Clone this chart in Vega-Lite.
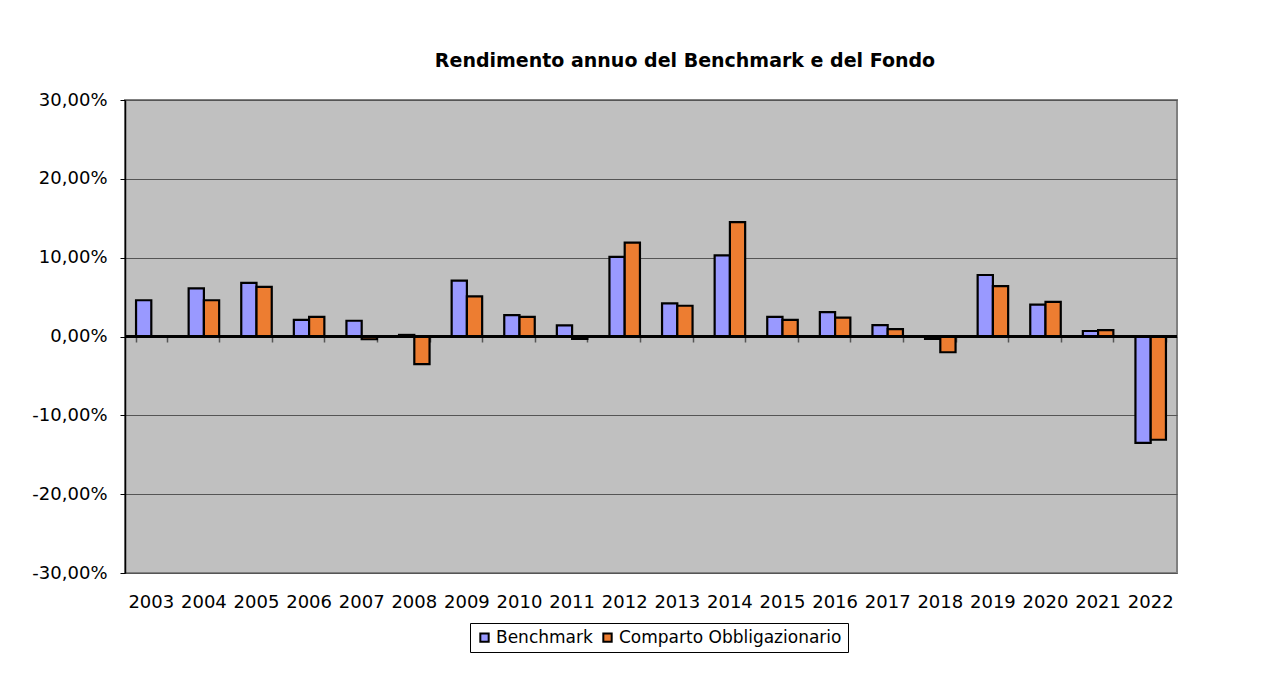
{
  "$schema": "https://vega.github.io/schema/vega-lite/v6.json",
  "autosize": "none",
  "width": 1052,
  "height": 473,
  "padding": {"left": 125, "top": 100, "right": 107, "bottom": 104},
  "background": "white",
  "title": {
    "text": "Rendimento annuo del Benchmark e del Fondo",
    "anchor": "middle",
    "dx": 34,
    "offset": 20,
    "font": "DejaVu Sans",
    "fontSize": 19,
    "fontWeight": "bold",
    "color": "black"
  },
  "data": {
    "values": [
      {"year": "2003", "series": "Benchmark", "value": 0.046},
      {"year": "2004", "series": "Benchmark", "value": 0.061},
      {"year": "2004", "series": "Comparto Obbligazionario", "value": 0.046},
      {"year": "2005", "series": "Benchmark", "value": 0.068},
      {"year": "2005", "series": "Comparto Obbligazionario", "value": 0.063},
      {"year": "2006", "series": "Benchmark", "value": 0.021},
      {"year": "2006", "series": "Comparto Obbligazionario", "value": 0.025},
      {"year": "2007", "series": "Benchmark", "value": 0.020},
      {"year": "2007", "series": "Comparto Obbligazionario", "value": -0.0035},
      {"year": "2008", "series": "Benchmark", "value": 0.002},
      {"year": "2008", "series": "Comparto Obbligazionario", "value": -0.035},
      {"year": "2009", "series": "Benchmark", "value": 0.071},
      {"year": "2009", "series": "Comparto Obbligazionario", "value": 0.051},
      {"year": "2010", "series": "Benchmark", "value": 0.027},
      {"year": "2010", "series": "Comparto Obbligazionario", "value": 0.025},
      {"year": "2011", "series": "Benchmark", "value": 0.014},
      {"year": "2011", "series": "Comparto Obbligazionario", "value": -0.003},
      {"year": "2012", "series": "Benchmark", "value": 0.101},
      {"year": "2012", "series": "Comparto Obbligazionario", "value": 0.119},
      {"year": "2013", "series": "Benchmark", "value": 0.042},
      {"year": "2013", "series": "Comparto Obbligazionario", "value": 0.039},
      {"year": "2014", "series": "Benchmark", "value": 0.103},
      {"year": "2014", "series": "Comparto Obbligazionario", "value": 0.145},
      {"year": "2015", "series": "Benchmark", "value": 0.025},
      {"year": "2015", "series": "Comparto Obbligazionario", "value": 0.021},
      {"year": "2016", "series": "Benchmark", "value": 0.031},
      {"year": "2016", "series": "Comparto Obbligazionario", "value": 0.024},
      {"year": "2017", "series": "Benchmark", "value": 0.0145},
      {"year": "2017", "series": "Comparto Obbligazionario", "value": 0.0094},
      {"year": "2018", "series": "Benchmark", "value": -0.003},
      {"year": "2018", "series": "Comparto Obbligazionario", "value": -0.020},
      {"year": "2019", "series": "Benchmark", "value": 0.078},
      {"year": "2019", "series": "Comparto Obbligazionario", "value": 0.064},
      {"year": "2020", "series": "Benchmark", "value": 0.0405},
      {"year": "2020", "series": "Comparto Obbligazionario", "value": 0.044},
      {"year": "2021", "series": "Benchmark", "value": 0.007},
      {"year": "2021", "series": "Comparto Obbligazionario", "value": 0.008},
      {"year": "2022", "series": "Benchmark", "value": -0.135},
      {"year": "2022", "series": "Comparto Obbligazionario", "value": -0.131}
    ]
  },
  "layer": [
    {
      "mark": {"type": "bar", "stroke": "black", "strokeWidth": 2.2},
      "encoding": {
        "x": {
          "field": "year",
          "type": "nominal",
          "scale": {"paddingInner": 0.42, "paddingOuter": 0.21},
          "axis": {
            "title": null,
            "labelAngle": 0,
            "ticks": false,
            "domain": false,
            "labelPadding": 20,
            "labelFont": "DejaVu Sans",
            "labelFontSize": 18,
            "labelColor": "black"
          }
        },
        "xOffset": {
          "field": "series",
          "type": "nominal",
          "scale": {"domain": ["Benchmark", "Comparto Obbligazionario"], "paddingInner": 0}
        },
        "y": {
          "field": "value",
          "type": "quantitative",
          "scale": {"domain": [-0.3, 0.3], "nice": false},
          "axis": {
            "title": null,
            "values": [-0.3, -0.2, -0.1, 0, 0.1, 0.2, 0.3],
            "labelExpr": "replace(replace(format(datum.value, '.2%'), '.', ','), '\u2212', '-')",
            "labelFont": "DejaVu Sans",
            "labelFontSize": 18,
            "labelColor": "black",
            "labelPadding": 13,
            "tickSize": 5,
            "tickColor": "black",
            "domainColor": "black",
            "domainWidth": 1.5,
            "gridColor": "#555555",
            "gridWidth": 1.2
          }
        },
        "color": {
          "field": "series",
          "type": "nominal",
          "scale": {"domain": ["Benchmark", "Comparto Obbligazionario"], "range": ["#9999FF", "#ED7D31"]},
          "legend": {
            "title": null,
            "orient": "none",
            "legendX": 345,
            "legendY": 523,
            "direction": "horizontal",
            "strokeColor": "black",
            "padding": 6,
            "symbolType": "square",
            "symbolSize": 70,
            "symbolStrokeColor": "black",
            "symbolStrokeWidth": 2,
            "symbolOpacity": 1,
            "labelFont": "DejaVu Sans",
            "labelFontSize": 17,
            "labelColor": "black",
            "labelLimit": 0,
            "columnPadding": 6,
            "labelOffset": 3
          }
        }
      }
    },
    {
      "mark": {"type": "rule", "color": "black", "strokeWidth": 1.5},
      "encoding": {"y": {"datum": 0}}
    },
    {
      "mark": {"type": "point", "opacity": 0},
      "encoding": {
        "x": {
          "field": "year",
          "type": "nominal",
          "axis": {
            "title": null,
            "orient": "bottom",
            "offset": -236,
            "labels": false,
            "domain": false,
            "ticks": true,
            "tickBand": "extent",
            "tickSize": 5,
            "tickColor": "#555555",
            "tickWidth": 1.5,
            "grid": false
          }
        }
      }
    }
  ],
  "resolve": {"axis": {"x": "independent"}},
  "config": {
    "view": {"fill": "#C0C0C0", "stroke": "#808080", "strokeWidth": 2},
    "axisY": {"grid": true},
    "axisX": {"grid": false}
  }
}
